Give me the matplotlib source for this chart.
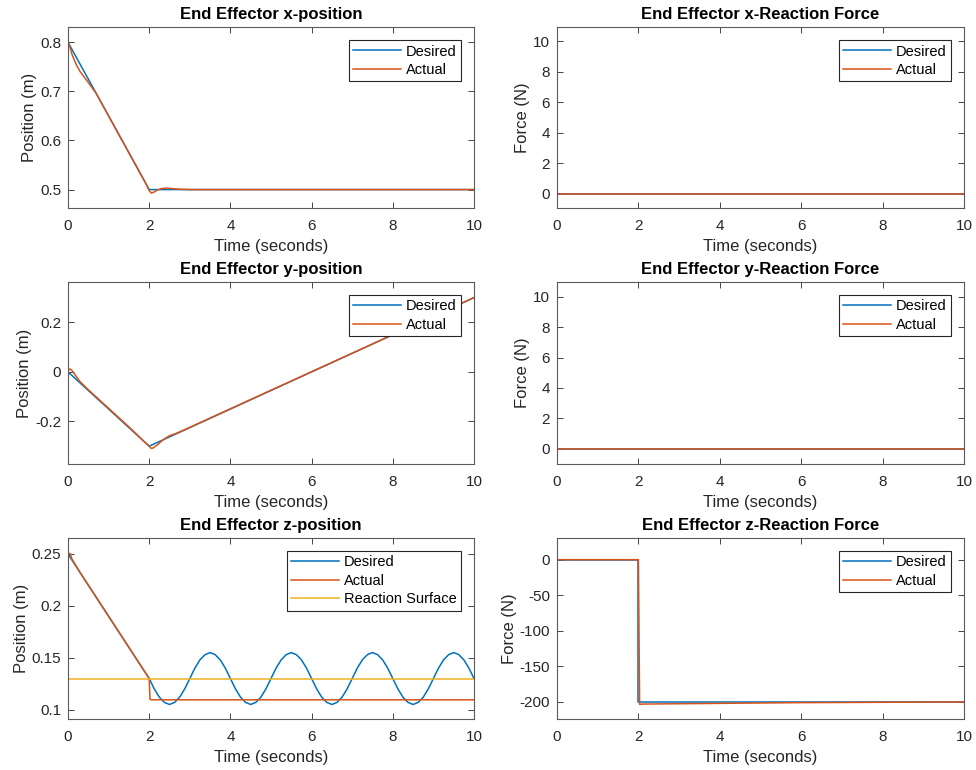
import matplotlib
matplotlib.use("Agg")
import matplotlib.pyplot as plt

plt.rcParams['font.family'] = ['Liberation Sans', 'DejaVu Sans']
plt.rcParams['axes.unicode_minus'] = False

BLUE = '#0072BD'
ORANGE = '#D95319'
YELLOW = '#EDB120'
AX_GRAY = '#262626'

# ---- End effector x position (m) ----
x_des_t = [0.0, 2.0, 10.0]
x_des = [0.8, 0.5, 0.5]
x_act_t = [0.0, 0.05, 0.1, 0.2, 0.3, 0.5, 0.7, 1.0, 1.5, 1.9, 2.0, 2.05, 2.1,
           2.2, 2.3, 2.4, 2.5, 2.7, 3.0, 3.5, 10.0]
x_act = [0.8, 0.79, 0.775, 0.755, 0.74, 0.718, 0.695, 0.65, 0.575, 0.515, 0.498,
         0.493, 0.494, 0.499, 0.502, 0.503, 0.5025, 0.501, 0.5, 0.5, 0.5]

# ---- End effector y position (m) ----
y_des_t = [0.0, 2.0, 10.0]
y_des = [0.0, -0.3, 0.3]
y_act_t = [0.0, 0.05, 0.1, 0.2, 0.3, 0.5, 1.0, 1.5, 1.9, 2.0, 2.05, 2.1, 2.2,
           2.3, 2.4, 2.5, 2.7, 3.0, 10.0]
y_act = [0.005, 0.012, 0.005, -0.018, -0.04, -0.072, -0.147, -0.222, -0.285,
         -0.3, -0.309, -0.307, -0.295, -0.28, -0.268, -0.258, -0.246, -0.224, 0.3]

# ---- End effector z position (m) ----
z_des_t = [0.0] + [2.0 + 0.125 * k for k in range(65)]
z_des = [0.25,
         0.130, 0.120, 0.112, 0.107, 0.105, 0.107, 0.112, 0.120,
         0.130, 0.140, 0.148, 0.153, 0.155, 0.153, 0.148, 0.140,
         0.130, 0.120, 0.112, 0.107, 0.105, 0.107, 0.112, 0.120,
         0.130, 0.140, 0.148, 0.153, 0.155, 0.153, 0.148, 0.140,
         0.130, 0.120, 0.112, 0.107, 0.105, 0.107, 0.112, 0.120,
         0.130, 0.140, 0.148, 0.153, 0.155, 0.153, 0.148, 0.140,
         0.130, 0.120, 0.112, 0.107, 0.105, 0.107, 0.112, 0.120,
         0.130, 0.140, 0.148, 0.153, 0.155, 0.153, 0.148, 0.140,
         0.130]
z_act_t = [0.0, 0.05, 0.1, 0.3, 1.0, 1.9, 2.0, 2.02, 2.05, 10.0]
z_act = [0.25, 0.2505, 0.245, 0.232, 0.19, 0.136, 0.13, 0.11, 0.1095, 0.1095]
surface_t = [0.0, 10.0]
surface_z = [0.13, 0.13]

# ---- Reaction forces (N) ----
fx_t = [0.0, 10.0]
fx_des = [0.0, 0.0]
fx_act = [0.0, 0.0]
fy_t = [0.0, 10.0]
fy_des = [0.0, 0.0]
fy_act = [0.0, 0.0]
fz_des_t = [0.0, 2.0, 2.0, 10.0]
fz_des = [0.0, 0.0, -200.0, -200.0]
fz_act_t = [0.0, 2.0, 2.03, 2.1, 4.0, 6.0, 8.0, 10.0]
fz_act = [0.0, 0.0, -203.5, -203.0, -202.0, -201.0, -200.5, -200.0]

time_ticks = [0, 2, 4, 6, 8, 10]

W, H = 976, 770
fig = plt.figure(figsize=(W / 100, H / 100), dpi=100)


def make_axes(x0, x1, y_top, y_bot):
    return fig.add_axes([x0 / W, 1 - y_bot / H, (x1 - x0) / W, (y_bot - y_top) / H])


def style(ax, title, ylabel, ylim, yticks):
    ax.set_xlim(0, 10)
    ax.set_xticks(time_ticks)
    ax.set_xticklabels([f'{v:g}' for v in time_ticks])
    ax.set_ylim(*ylim)
    ax.set_yticks(yticks)
    ax.set_yticklabels([f'{v:g}' for v in yticks])
    ax.set_title(title, fontsize=12, fontweight='bold', color='black', pad=6)
    ax.set_xlabel('Time (seconds)', fontsize=12, color=AX_GRAY, labelpad=4)
    ax.set_ylabel(ylabel, fontsize=12, color=AX_GRAY, labelpad=2)
    ax.tick_params(direction='in', top=True, right=True, length=4, width=0.6,
                   color=AX_GRAY, labelcolor=AX_GRAY, labelsize=11)
    ax.tick_params(axis='x', pad=8)
    ax.tick_params(axis='y', pad=5)
    for s in ax.spines.values():
        s.set_color('#5a5a5a')
        s.set_linewidth(0.8)


def legend(ax):
    leg = ax.legend(loc='upper right', fontsize=10.5, fancybox=False, framealpha=1,
                    edgecolor=AX_GRAY, handlelength=3.3, handletextpad=0.3,
                    labelspacing=0.3, borderpad=0.3, borderaxespad=0.9)
    leg.get_frame().set_linewidth(0.8)


LW = 1.1
L0, L1 = 68, 474
R0, R1 = 557, 964
rows = [(27, 208), (282, 464), (538, 719)]

ax = make_axes(L0, L1, *rows[0])
ax.plot(x_des_t, x_des, color=BLUE, lw=LW, label='Desired')
ax.plot(x_act_t, x_act, color=ORANGE, lw=LW, label='Actual')
style(ax, 'End Effector x-position', 'Position (m)', (0.4625, 0.831), [0.5, 0.6, 0.7, 0.8])
legend(ax)

ax = make_axes(R0, R1, *rows[0])
ax.plot(fx_t, fx_des, color=BLUE, lw=LW, label='Desired')
ax.plot(fx_t, fx_act, color=ORANGE, lw=LW, label='Actual')
style(ax, 'End Effector x-Reaction Force', 'Force (N)', (-0.95, 10.92), [0, 2, 4, 6, 8, 10])
legend(ax)

ax = make_axes(L0, L1, *rows[1])
ax.plot(y_des_t, y_des, color=BLUE, lw=LW, label='Desired')
ax.plot(y_act_t, y_act, color=ORANGE, lw=LW, label='Actual')
style(ax, 'End Effector y-position', 'Position (m)', (-0.372, 0.363), [-0.2, 0, 0.2])
legend(ax)

ax = make_axes(R0, R1, *rows[1])
ax.plot(fy_t, fy_des, color=BLUE, lw=LW, label='Desired')
ax.plot(fy_t, fy_act, color=ORANGE, lw=LW, label='Actual')
style(ax, 'End Effector y-Reaction Force', 'Force (N)', (-1.0, 10.97), [0, 2, 4, 6, 8, 10])
legend(ax)

ax = make_axes(L0, L1, *rows[2])
ax.plot(z_des_t, z_des, color=BLUE, lw=LW, label='Desired')
ax.plot(z_act_t, z_act, color=ORANGE, lw=LW, label='Actual')
ax.plot(surface_t, surface_z, color=YELLOW, lw=LW, label='Reaction Surface')
style(ax, 'End Effector z-position', 'Position (m)', (0.091, 0.2654), [0.1, 0.15, 0.2, 0.25])
legend(ax)

ax = make_axes(R0, R1, *rows[2])
ax.plot(fz_des_t, fz_des, color=BLUE, lw=LW, label='Desired')
ax.plot(fz_act_t, fz_act, color=ORANGE, lw=LW, label='Actual')
style(ax, 'End Effector z-Reaction Force', 'Force (N)', (-224, 30.5), [-200, -150, -100, -50, 0])
legend(ax)

fig.savefig('out.png', dpi=100)
